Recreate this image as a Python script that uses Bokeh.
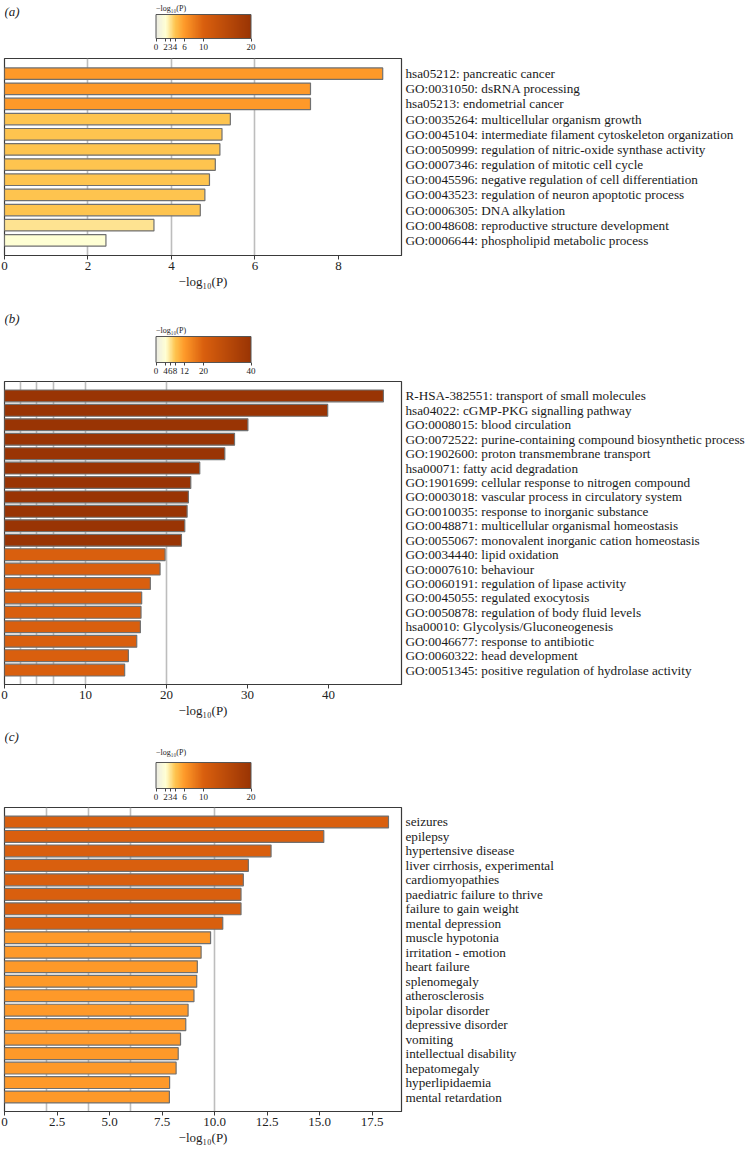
import numpy as np
from bokeh.plotting import figure
from bokeh.layouts import column
from bokeh.models import (Range1d, FixedTicker, Label, LinearColorMapper,
                          ColumnDataSource, ColorBar, AllLabels)
from bokeh.embed import file_html
from bokeh.resources import INLINE

FONT = "Liberation Serif"
W = 748

# ---------------- data ----------------
a_terms = [
    "hsa05212: pancreatic cancer",
    "GO:0031050: dsRNA processing",
    "hsa05213: endometrial cancer",
    "GO:0035264: multicellular organism growth",
    "GO:0045104: intermediate filament cytoskeleton organization",
    "GO:0050999: regulation of nitric-oxide synthase activity",
    "GO:0007346: regulation of mitotic cell cycle",
    "GO:0045596: negative regulation of cell differentiation",
    "GO:0043523: regulation of neuron apoptotic process",
    "GO:0006305: DNA alkylation",
    "GO:0048608: reproductive structure development",
    "GO:0006644: phospholipid metabolic process",
]
a_vals = [9.06, 7.33, 7.33, 5.41, 5.21, 5.16, 5.05, 4.91, 4.80, 4.69, 3.58, 2.43]

b_terms = [
    "R-HSA-382551: transport of small molecules",
    "hsa04022: cGMP-PKG signalling pathway",
    "GO:0008015: blood circulation",
    "GO:0072522: purine-containing compound biosynthetic process",
    "GO:1902600: proton transmembrane transport",
    "hsa00071: fatty acid degradation",
    "GO:1901699: cellular response to nitrogen compound",
    "GO:0003018: vascular process in circulatory system",
    "GO:0010035: response to inorganic substance",
    "GO:0048871: multicellular organismal homeostasis",
    "GO:0055067: monovalent inorganic cation homeostasis",
    "GO:0034440: lipid oxidation",
    "GO:0007610: behaviour",
    "GO:0060191: regulation of lipase activity",
    "GO:0045055: regulated exocytosis",
    "GO:0050878: regulation of body fluid levels",
    "hsa00010: Glycolysis/Gluconeogenesis",
    "GO:0046677: response to antibiotic",
    "GO:0060322: head development",
    "GO:0051345: positive regulation of hydrolase activity",
]
b_vals = [46.77, 39.89, 30.04, 28.39, 27.19, 24.10, 22.99, 22.70, 22.54, 22.25,
          21.84, 19.82, 19.20, 18.00, 16.93, 16.85, 16.77, 16.32, 15.29, 14.83]

c_terms = [
    "seizures", "epilepsy", "hypertensive disease", "liver cirrhosis, experimental",
    "cardiomyopathies", "paediatric failure to thrive", "failure to gain weight",
    "mental depression", "muscle hypotonia", "irritation - emotion", "heart failure",
    "splenomegaly", "atherosclerosis", "bipolar disorder", "depressive disorder",
    "vomiting", "intellectual disability", "hepatomegaly", "hyperlipidaemia",
    "mental retardation",
]
c_vals = [18.28, 15.20, 12.69, 11.61, 11.37, 11.26, 11.26, 10.39, 9.81, 9.36,
          9.18, 9.15, 9.02, 8.74, 8.63, 8.38, 8.27, 8.17, 7.86, 7.85]

a_xticks = [0, 2, 4, 6, 8]
b_xticks = [0, 10, 20, 30, 40]
c_xticks = [0, 2.5, 5.0, 7.5, 10.0, 12.5, 15.0, 17.5]
c_xtick_labels = ["0", "2.5", "5.0", "7.5", "10.0", "12.5", "15.0", "17.5"]

a_cb_ticks = [0, 2, 3, 4, 6, 10, 20]
b_cb_ticks = [0, 4, 6, 8, 12, 20, 40]
c_cb_ticks = [0, 2, 3, 4, 6, 10, 20]

grid_vals = [2, 4, 6, 10, 20]
bin_edges = [2, 3, 4, 6, 10, 20]
bin_colors = ["#ECECE4", "#FFFFD4", "#FEE391", "#FEC44F", "#FE9929", "#D95F0E", "#993404"]

AXIS_LABEL = "\u2212log\u2081\u2080(P)"

LEFT = 4
RIGHT = W - 401


def hexrgb(h):
    return [int(h[i:i + 2], 16) for i in (1, 3, 5)]


def bar_color(v):
    return bin_colors[sum(1 for t in bin_edges if v >= t)]


def gradient_palette(ticks, n=256):
    rgb = np.array([hexrgb(c) for c in bin_colors], float)
    xs = np.linspace(0, ticks[-1], n)
    pal = []
    for x in xs:
        r, g, b = (np.interp(x, ticks, rgb[:, k]) for k in range(3))
        pal.append("#%02x%02x%02x" % (int(round(r)), int(round(g)), int(round(b))))
    return pal


def header_fig(ticks, tag, h, tag_y, bar_h, title_gap, margin):
    """Strip above each panel: panel tag and colour bar."""
    p = figure(width=W, height=h, x_range=Range1d(0, 1), y_range=Range1d(0, 1),
               output_backend="svg", toolbar_location=None,
               x_axis_location=None, y_axis_location=None,
               min_border_left=LEFT, min_border_right=RIGHT,
               min_border_top=0, min_border_bottom=0)
    p.grid.visible = False
    p.outline_line_color = None
    p.background_fill_color = None
    p.border_fill_color = None
    vmax = ticks[-1]
    mapper = LinearColorMapper(palette=gradient_palette(ticks), low=0, high=vmax)
    cb = ColorBar(color_mapper=mapper, ticker=FixedTicker(ticks=ticks),
                  major_label_policy=AllLabels(),
                  orientation="horizontal", location="bottom_center",
                  width=95, height=bar_h, margin=margin, padding=0,
                  title=AXIS_LABEL, title_text_font=FONT, title_text_font_size="8px",
                  title_text_font_style="normal", title_text_color="#222222",
                  title_standoff=title_gap,
                  major_label_text_font=FONT, major_label_text_font_size="9px",
                  major_label_text_color="#222222", label_standoff=2,
                  major_tick_in=0, major_tick_out=3, major_tick_line_color="#444444",
                  minor_tick_line_color=None,
                  bar_line_color="#555555", bar_line_width=1,
                  border_line_color=None, background_fill_color=None)
    p.add_layout(cb)
    p.add_layout(Label(x=0, y=(h - tag_y) / h, text=tag, text_font=FONT,
                       text_font_style="italic", text_font_size="13px",
                       text_color="#222222", text_align="left", text_baseline="middle"))
    return p


def bar_fig(terms, vals, xmax, xticks, h, frame_h, bar_h, xlabels=None):
    n = len(terms)
    idx = list(range(n))
    p = figure(width=W, height=h, x_range=Range1d(0, xmax), y_range=Range1d(n, -1),
               y_axis_location="right", output_backend="svg", toolbar_location=None,
               min_border_left=LEFT, min_border_right=RIGHT,
               min_border_top=1, min_border_bottom=h - 1 - frame_h)
    src = ColumnDataSource(dict(y=idx, right=vals, color=[bar_color(v) for v in vals]))
    p.hbar(y="y", left=0, right="right", height=bar_h, fill_color="color",
           line_color="#707070", line_width=1.2, source=src)
    p.ygrid.visible = False
    p.xgrid.ticker = FixedTicker(ticks=[g for g in grid_vals if g < xmax])
    p.xgrid.grid_line_color = "#BDBDBD"
    p.xgrid.grid_line_width = 1.6
    p.outline_line_color = "#3a3a3a"
    p.outline_line_width = 1.2
    p.background_fill_color = None
    p.border_fill_color = None

    ya = p.yaxis[0]
    ya.ticker = FixedTicker(ticks=idx)
    ya.major_label_overrides = {i: t for i, t in zip(idx, terms)}
    ya.axis_line_color = None
    ya.major_tick_line_color = None
    ya.minor_tick_line_color = None
    ya.major_tick_out = 0
    ya.major_tick_in = 0
    ya.major_label_standoff = 4
    ya.major_label_text_font = FONT
    ya.major_label_text_font_size = "13.2px"
    ya.major_label_text_color = "#1a1a1a"

    xa = p.xaxis[0]
    xa.ticker = FixedTicker(ticks=xticks)
    if xlabels is not None:
        xa.major_label_overrides = {float(t): l for t, l in zip(xticks, xlabels)}
    xa.axis_line_color = "#3a3a3a"
    xa.major_tick_line_color = "#3a3a3a"
    xa.minor_tick_line_color = None
    xa.major_tick_in = 0
    xa.major_tick_out = 4
    xa.major_label_standoff = 2
    xa.major_label_text_font = FONT
    xa.major_label_text_font_size = "13px"
    xa.major_label_text_color = "#222222"
    xa.axis_label = AXIS_LABEL
    xa.axis_label_standoff = 1
    xa.axis_label_text_font = FONT
    xa.axis_label_text_font_size = "13px"
    xa.axis_label_text_font_style = "normal"
    xa.axis_label_text_color = "#222222"
    return p


# page rows: hdr_a 0-57, bar_a 57-305, hdr_b 305-380, bar_b 380-728, hdr_c 728-806, bar_c 806-1154
hdr_a = header_fig(a_cb_ticks, "(a)", 57, 11, 24, 4, 5)
bar_a = bar_fig(a_terms, a_vals, 9.51, a_xticks, 248, 197, 0.76)
hdr_b = header_fig(b_cb_ticks, "(b)", 75, 13, 26, 4, 4)
bar_b = bar_fig(b_terms, b_vals, 49.0, b_xticks, 348, 303, 0.82)
hdr_c = header_fig(c_cb_ticks, "(c)", 78, 8, 26, 11, 4)
bar_c = bar_fig(c_terms, c_vals, 18.9, c_xticks, 348, 304, 0.82, c_xtick_labels)

layout = column(hdr_a, bar_a, hdr_b, bar_b, hdr_c, bar_c, spacing=0)

open("out.html", "w").write(file_html(layout, INLINE))
